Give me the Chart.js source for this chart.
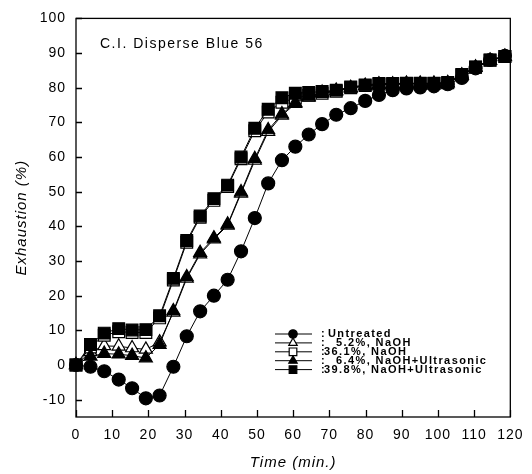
<!DOCTYPE html>
<html>
<head>
<meta charset="utf-8">
<script src="https://cdn.jsdelivr.net/npm/chart.js@4.4.0/dist/chart.umd.min.js"></script>
<style>
  html, body { margin: 0; padding: 0; background: #fff; }
  canvas { display: block; }
</style>
</head>
<body>
<canvas id="chart" width="532" height="474"></canvas>
<script>
// Exhaustion curves, values
const times = [0, 4, 7.8, 11.8, 15.5, 19.3, 23.1, 26.9, 30.6, 34.3, 38.1, 41.9, 45.6, 49.4, 53.1, 56.9,
  60.6, 64.3, 68, 71.9, 75.9, 79.9, 83.7, 87.5, 91.3, 95.1, 98.9, 102.7, 106.6, 110.4, 114.4, 118.5];

const untreated = [0, -0.5, -1.8, -4.2, -6.7, -9.6, -8.8, -0.5, 8.3, 15.5, 20, 24.6, 32.8, 42.4, 52.4, 59.1,
  63, 66.5, 69.5, 72.2, 74.1, 76.2, 77.9, 79.3, 79.8, 80.1, 80.4, 81, 82.8, 85.6, 88, 89.2];
const naoh52 = [0, 3.8, 5.5, 5.4, 4.9, 4.5, 6.6, 15.2, 25, 32, 36.3, 40.3, 49.5, 59, 67.3, 72,
  75.4, 77.2, 78.4, 79, 79.8, 80.5, 80.9, 80.9, 81.1, 81.1, 81.1, 81.3, 83.5, 85.8, 87.8, 88.9];
const naoh361 = [0, 5.2, 8.6, 9.6, 9.4, 9.4, 13.6, 24.5, 35.4, 42.6, 47.5, 51.5, 59.5, 67.6, 73, 75.8,
  77, 77.8, 78.4, 79, 80, 80.6, 81, 81.1, 81.2, 81.2, 81.2, 81.4, 83.7, 85.9, 87.9, 89];
const ultra64 = [0, 2.5, 3.3, 3.1, 2.7, 2.0, 5.9, 15.6, 25.4, 32.4, 36.6, 40.6, 49.9, 59.5, 67.8, 72.4,
  75.7, 77.5, 78.6, 79.2, 80, 80.6, 81, 81, 81.2, 81.2, 81.2, 81.4, 83.6, 85.9, 87.9, 89];
const ultra398 = [0, 5.9, 9.2, 10.5, 10.1, 10.2, 14.2, 25, 35.9, 43, 48, 51.9, 60, 68.3, 73.8, 77.1,
  78.4, 78.6, 78.9, 79.3, 80.2, 80.8, 81.2, 81.2, 81.3, 81.3, 81.3, 81.5, 83.8, 86, 88, 89];

const xTicks = [0, 10, 20, 30, 40, 50, 60, 70, 80, 90, 100, 110, 120];
const yTicks = [-10, 0, 10, 20, 30, 40, 50, 60, 70, 80, 90, 100];
const chartTitle = 'C.I. Disperse Blue 56';

const FONT = '"Liberation Sans", Arial, sans-serif';
Chart.defaults.font.family = FONT;
Chart.defaults.color = '#000';

function series(label, values, style, filled, radius, order) {
  return {
    label,
    data: times.map((t, i) => ({ x: t, y: values[i] })),
    pointStyle: style,
    pointRadius: radius,
    pointBackgroundColor: filled ? '#000' : '#fff',
    pointBorderColor: '#000',
    pointBorderWidth: 1.2,
    borderColor: '#000',
    borderWidth: 1,
    tension: 0,
    clip: false,
    order
  };
}

// legend text offsets (the original pads the short labels)
const legendTextX = [328, 336, 324, 336, 324];

const decor = {
  id: 'decor',
  beforeDraw(chart) {
    chart.ctx.letterSpacing = '1px';
  },
  beforeDatasetsDraw(chart) {
    const { ctx, chartArea: a, scales: { x, y } } = chart;
    ctx.save();
    ctx.strokeStyle = '#000';
    ctx.lineWidth = 1.3;
    ctx.strokeRect(a.left, a.top, a.right - a.left, a.bottom - a.top);
    ctx.beginPath();
    yTicks.forEach(v => {
      const py = Math.round(y.getPixelForValue(v)) + 0.5;
      ctx.moveTo(a.left, py); ctx.lineTo(a.left + 6, py);
    });
    xTicks.forEach(v => {
      const px = Math.round(x.getPixelForValue(v)) + 0.5;
      ctx.moveTo(px, a.bottom); ctx.lineTo(px, a.bottom - 7);
    });
    ctx.stroke();

    ctx.fillStyle = '#000';
    ctx.font = '14px ' + FONT;
    ctx.letterSpacing = '1.5px';
    ctx.textAlign = 'left';
    ctx.textBaseline = 'middle';
    ctx.fillText(chartTitle, 100, 44);
    ctx.restore();
  },
  afterDraw(chart) {
    const ctx = chart.ctx;
    ctx.save();
    ctx.font = 'bold 11px ' + FONT;
    ctx.letterSpacing = '1.4px';
    ctx.textAlign = 'left';
    ctx.textBaseline = 'middle';
    chart.data.datasets.forEach((ds, row) => {
      const yy = 334 + row * 8.9;
      ctx.strokeStyle = '#000';
      ctx.lineWidth = 1;
      ctx.beginPath();
      ctx.moveTo(275, yy);
      ctx.lineTo(312, yy);
      ctx.stroke();
      ctx.fillStyle = ds.pointBackgroundColor;
      ctx.lineWidth = 1.2;
      Chart.helpers.drawPoint(ctx, {
        pointStyle: ds.pointStyle, radius: ds.pointRadius * 0.65, rotation: 0, borderWidth: 1.2
      }, 293, yy);
      ctx.fillStyle = '#000';
      ctx.fillText(':', 321, yy);
      ctx.fillText(ds.label, legendTextX[row], yy);
    });
    ctx.restore();
  }
};

new Chart(document.getElementById('chart'), {
  type: 'line',
  data: {
    datasets: [
      series('Untreated', untreated, 'circle', true, 6.5, 2),
      series('5.2%, NaOH', naoh52, 'triangle', false, 7.5, 4),
      series('36.1%, NaOH', naoh361, 'rect', false, 8.3, 3),
      series('6.4%, NaOH+Ultrasonic', ultra64, 'triangle', true, 7.5, 1),
      series('39.8%, NaOH+Ultrasonic', ultra398, 'rect', true, 8.3, 0)
    ]
  },
  options: {
    responsive: false,
    animation: false,
    devicePixelRatio: 1,
    layout: { padding: { top: 13, right: 19, left: 0, bottom: 0 } },
    plugins: {
      legend: { display: false },
      tooltip: { enabled: false }
    },
    scales: {
      x: {
        type: 'linear',
        min: 0,
        max: 120,
        afterBuildTicks: s => { s.ticks = xTicks.map(v => ({ value: v })); },
        afterFit: s => { s.height = 57; },
        grid: { display: false, drawTicks: false },
        border: { display: false },
        ticks: { font: { size: 14 }, color: '#000', padding: 10, autoSkip: false, maxRotation: 0 },
        title: {
          display: true, text: 'Time (min.)', color: '#000',
          font: { size: 15, style: 'italic' }, padding: { bottom: 2, top: 0 }
        }
      },
      y: {
        type: 'linear',
        min: -15,
        max: 100,
        afterBuildTicks: s => { s.ticks = yTicks.map(v => ({ value: v })); },
        afterFit: s => { s.width = 76; },
        grid: { display: false, drawTicks: false },
        border: { display: false },
        ticks: { font: { size: 14 }, color: '#000', padding: 10 },
        title: {
          display: true, text: 'Exhaustion (%)', color: '#000',
          font: { size: 15, style: 'italic' }, padding: { top: 13, bottom: 0 }
        }
      }
    }
  },
  plugins: [decor]
});
</script>
</body>
</html>
